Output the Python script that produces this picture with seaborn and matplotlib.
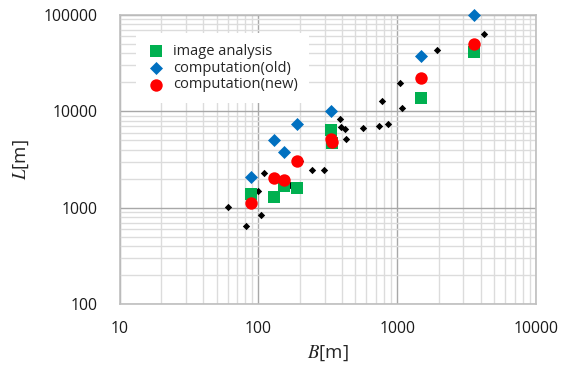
import matplotlib
matplotlib.use("Agg")
import matplotlib.pyplot as plt
import seaborn as sns
import pandas as pd
from matplotlib.ticker import LogLocator, NullFormatter, FixedLocator, FixedFormatter

# ---- data ----
img_B = [89, 130, 152, 188, 335, 336, 1490, 3580]
img_L = [1400, 1290, 1670, 1620, 6400, 4700, 13700, 41000]

old_B = [89, 130, 152, 188, 335, 1490, 3580]
old_L = [2090, 5000, 3760, 7400, 10100, 37600, 100000]

new_B = [89, 130, 152, 188, 335, 336, 1490, 3580]
new_L = [1110, 2010, 1930, 3030, 5100, 4750, 21900, 49700]

obs_B = [60, 81, 100, 104, 110, 168, 200, 245, 299, 389, 391, 418, 425,
         571, 736, 859, 774, 1050, 1080, 1950, 4230]
obs_L = [1010, 641, 1490, 832, 2270, 1740, 3030, 2450, 2450, 8320, 6820, 6560, 5170,
         6650, 6980, 7440, 12800, 19600, 10800, 43000, 62400]

x_ticks = [10, 100, 1000, 10000]
y_ticks = [100, 1000, 10000, 100000]

sns.set_style("white")
plt.rcParams['font.family'] = ['Open Sans', 'DejaVu Sans']
plt.rcParams['mathtext.fontset'] = 'stix'

fig = plt.figure(figsize=(5.68, 3.71), dpi=100)
ax = fig.add_axes([119.7/568, 1-304.3/371, 416.3/568, 289.6/371])

df_obs = pd.DataFrame({"B": obs_B, "L": obs_L})
df_img = pd.DataFrame({"B": img_B, "L": img_L})
df_old = pd.DataFrame({"B": old_B, "L": old_L})
df_new = pd.DataFrame({"B": new_B, "L": new_L})

sns.scatterplot(data=df_obs, x="B", y="L", ax=ax, marker="D", s=14, color="black",
                edgecolor="black", linewidth=0, zorder=3, legend=False, clip_on=False)
sns.scatterplot(data=df_img, x="B", y="L", ax=ax, marker="s", s=80, color="#00B050",
                linewidth=0, zorder=4, label="image analysis", clip_on=False)
sns.scatterplot(data=df_old, x="B", y="L", ax=ax, marker="D", s=44, color="#0070C0",
                linewidth=0, zorder=4, label="computation(old)", clip_on=False)
sns.scatterplot(data=df_new, x="B", y="L", ax=ax, marker="o", s=80, color="#FF0000",
                linewidth=0, zorder=5, label="computation(new)", clip_on=False)

ax.set_xscale("log")
ax.set_yscale("log")
ax.set_xlim(10, 10000)
ax.set_ylim(100, 100000)

ax.xaxis.set_major_locator(FixedLocator(x_ticks))
ax.xaxis.set_major_formatter(FixedFormatter([str(v) for v in x_ticks]))
ax.yaxis.set_major_locator(FixedLocator(y_ticks))
ax.yaxis.set_major_formatter(FixedFormatter([str(v) for v in y_ticks]))
ax.xaxis.set_minor_locator(LogLocator(base=10, subs=range(2, 10), numticks=20))
ax.yaxis.set_minor_locator(LogLocator(base=10, subs=range(2, 10), numticks=20))
ax.xaxis.set_minor_formatter(NullFormatter())
ax.yaxis.set_minor_formatter(NullFormatter())

ax.grid(which="major", color="#a8a8a8", linewidth=1.0, zorder=0)
ax.grid(which="minor", color="#dcdcdc", linewidth=1.0, zorder=0)
ax.set_axisbelow(True)
ax.tick_params(which="both", length=0)
ax.tick_params(axis="x", pad=12, labelsize=11.3, colors="#1a1a1a")
ax.tick_params(axis="y", pad=16, labelsize=11.3, colors="#1a1a1a")
for s in ax.spines.values():
    s.set_color("#bfbfbf")
    s.set_linewidth(1.2)

ax.set_xlabel(r"$B$[m]", fontsize=13.5, labelpad=5)
ax.set_ylabel(r"$L$[m]", fontsize=13.5, labelpad=9)

leg = ax.legend(loc="upper left", bbox_to_anchor=(0.039, 0.937), borderaxespad=0,
                frameon=True, fontsize=10.5, handletextpad=0.6, labelspacing=0.12,
                borderpad=0.75, handlelength=1.2)
leg.get_frame().set_facecolor("white")
leg.get_frame().set_edgecolor("none")
leg.get_frame().set_alpha(1)
leg.get_frame().set_boxstyle("square", pad=0)

fig.savefig("out.png", dpi=100)
